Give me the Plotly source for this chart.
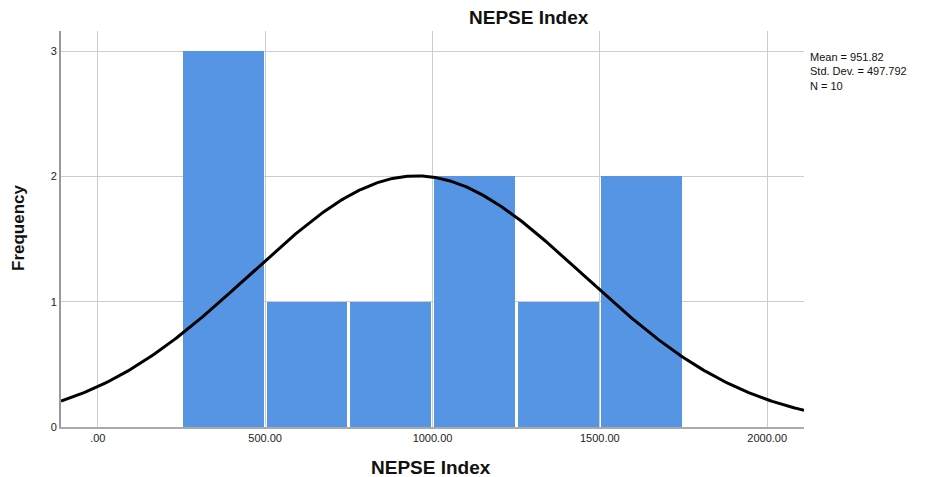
import numpy as np
import plotly.graph_objects as go

bin_starts = [250, 500, 750, 1000, 1250, 1500]
bin_width = 250
counts = [3, 1, 1, 2, 1, 2]
mean = 951.82
sd = 497.792
n = 10
x_ticks = [0, 500, 1000, 1500, 2000]
x_tick_labels = [".00", "500.00", "1000.00", "1500.00", "2000.00"]
y_ticks = [0, 1, 2, 3]

centers = [s + bin_width / 2 for s in bin_starts]
xs = np.linspace(-110, 2110, 400)
ys = n * bin_width / (sd * np.sqrt(2 * np.pi)) * np.exp(-0.5 * ((xs - mean) / sd) ** 2)

# page body adds an 8px offset; figure is sized to the remaining viewport
OFF = 8
W, H = 935 - OFF, 477 - OFF
L, R, T, B = 61 - OFF, 131, 31 - OFF, 50

fig = go.Figure()
fig.add_trace(go.Bar(x=centers, y=counts, width=bin_width - 8,
                     marker=dict(color="#5694E4", line=dict(width=0)), showlegend=False))
fig.add_trace(go.Scatter(x=xs, y=ys, mode="lines", line=dict(color="black", width=3),
                         showlegend=False))

fig.update_layout(
    width=W, height=H,
    margin=dict(l=L, r=R, t=T, b=B, autoexpand=False),
    plot_bgcolor="white", paper_bgcolor="white",
    font=dict(family="Liberation Sans, Arial", color="#222"),
    xaxis=dict(range=[-110, 2110], tickvals=x_ticks, ticktext=x_tick_labels,
               showgrid=True, gridcolor="#cccccc", gridwidth=1.3, zeroline=False,
               showline=True, linecolor="#aaaaaa", linewidth=1.5, automargin=False,
               tickfont=dict(size=11, color="#222"), ticks=""),
    yaxis=dict(range=[0, 3.16], tickvals=y_ticks, showgrid=True, gridcolor="#cccccc",
               gridwidth=1.3, zeroline=False, showline=True, linecolor="#999999", linewidth=2,
               automargin=False, tickfont=dict(size=11, color="#222"), ticks=""),
    bargap=0,
)

def px(x, y):
    x -= OFF
    y -= OFF
    return ((x - L) / (W - L - R), (H - B - y) / (H - T - B))

for txt, (x, y), size, ang in [("<b>NEPSE Index</b>", (529, 18), 19, 0),
                               ("<b>NEPSE Index</b>", (431, 467), 19, 0),
                               ("<b>Frequency</b>", (18, 228), 17, -90)]:
    ax, ay = px(x, y)
    fig.add_annotation(x=ax, y=ay, xref="paper", yref="paper", showarrow=False,
                       xanchor="center", yanchor="middle", textangle=ang,
                       text=txt, font=dict(size=size, color="#111"))
mx, my = px(808, 49)
fig.add_annotation(x=mx, y=my, xref="paper", yref="paper", xanchor="left", yanchor="top",
                   align="left", showarrow=False,
                   text=f"Mean = {mean}<br>Std. Dev. = {sd}<br>N = {n}",
                   font=dict(size=11, color="#111"))
fig.write_html("out.html")
